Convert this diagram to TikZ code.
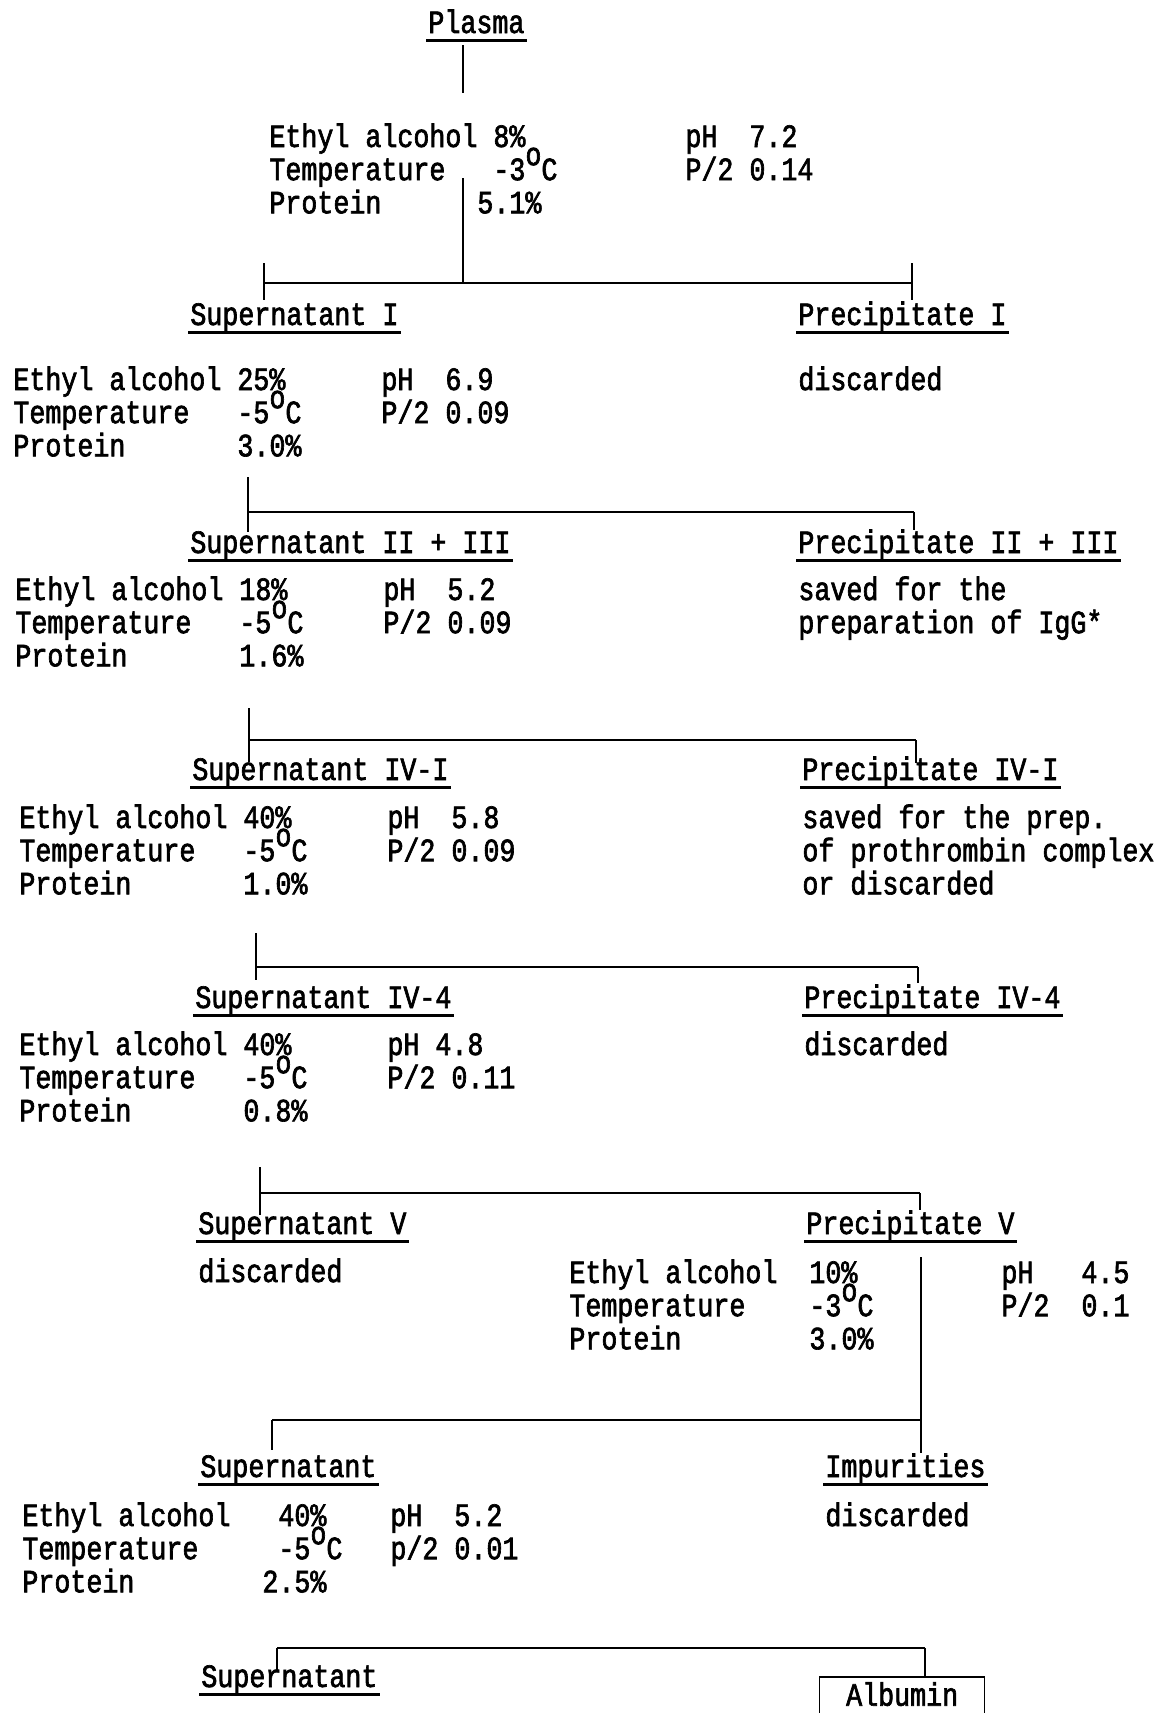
\documentclass[tikz,border=0pt]{standalone}
\usepackage{fontspec}
\setmainfont{Liberation Mono}[FakeStretch=0.82,FakeBold=2]
\newcommand{\dgr}{\raisebox{7.5pt}[0pt][0pt]{o}}
\newcommand{\tw}{\fontsize{16.26}{16}\selectfont\frenchspacing}
\newcommand{\typed}[1]{\begin{tabular}[t]{@{}l@{}}#1\end{tabular}}

\begin{document}
\begin{tikzpicture}[
	x=0.5pt, y=-0.5pt,
	% typed text, first line set on the given baseline
	txt/.style={
		anchor=base west,
		inner sep=0pt,
		font=\tw
	},
	% underlined heading
	ttl/.style={
		anchor=base west,
		inner xsep=1pt,
		inner ysep=3.5pt,
		text depth=0pt,
		font=\tw
	},
	uline/.style={line width=1.1pt},
	bar/.style={line width=1.3pt},
	stem/.style={line width=0.6pt},
	albbox/.style={
		draw,
		line width=0.7pt,
		anchor=north west,
		minimum width=82.5pt,
		inner ysep=4pt,
		text height=10pt,
		text depth=24pt,
		font=\tw
	}
	]
	\useasboundingbox (0,0) rectangle (1167,1713);
	\clip (0,0) rectangle (1167,1713);
	
	% ================= HEADINGS =================
	\node[ttl] (plasma) at (426,33) {Plasma};
	
	\node[ttl] (sup1) at (188,325) {Supernatant I};
	\node[ttl] (pre1) at (796,325) {Precipitate I};
	
	\node[ttl] (sup2) at (188,553) {Supernatant II + III};
	\node[ttl] (pre2) at (796,553) {Precipitate II + III};
	
	\node[ttl] (sup3) at (190,780) {Supernatant IV-I};
	\node[ttl] (pre3) at (800,780) {Precipitate IV-I};
	
	\node[ttl] (sup4) at (193,1008) {Supernatant IV-4};
	\node[ttl] (pre4) at (802,1008) {Precipitate IV-4};
	
	\node[ttl] (sup5) at (196,1234) {Supernatant V};
	\node[ttl] (pre5) at (804,1234) {Precipitate V};
	
	\node[ttl] (sup6) at (198,1477) {Supernatant};
	\node[ttl] (imp) at (823,1477) {Impurities};
	
	\node[ttl] (sup7) at (199,1687) {Supernatant};
	\node[albbox] (alb) at (819,1677) {Albumin};
	
	\foreach \n in {plasma,sup1,pre1,sup2,pre2,sup3,pre3,sup4,pre4,sup5,pre5,sup6,imp,sup7}
		\draw[uline] (\n.south west) -- (\n.south east);
	\draw[uline] (alb.north west) -- (alb.north east);
	
	% ================= CONDITIONS =================
	\node[txt] (cond1) at (269,147) {\typed{Ethyl alcohol 8\%~~~~~~~~~~pH~~7.2\\
		Temperature~~~-3\dgr C~~~~~~~~P/2 0.14\\
		Protein~~~~~~5.1\%}};
	
	\node[txt] (cond2) at (13,390) {\typed{Ethyl alcohol 25\%~~~~~~pH~~6.9\\
		Temperature~~~-5\dgr C~~~~~P/2 0.09\\
		Protein~~~~~~~3.0\%}};
	
	\node[txt] (cond3) at (15,600) {\typed{Ethyl alcohol 18\%~~~~~~pH~~5.2\\
		Temperature~~~-5\dgr C~~~~~P/2 0.09\\
		Protein~~~~~~~1.6\%}};
	
	\node[txt] (cond4) at (19,828) {\typed{Ethyl alcohol 40\%~~~~~~pH~~5.8\\
		Temperature~~~-5\dgr C~~~~~P/2 0.09\\
		Protein~~~~~~~1.0\%}};
	
	\node[txt] (cond5) at (19,1055) {\typed{Ethyl alcohol 40\%~~~~~~pH 4.8\\
		Temperature~~~-5\dgr C~~~~~P/2 0.11\\
		Protein~~~~~~~0.8\%}};
	
	\node[txt] (cond6) at (569,1283) {\typed{Ethyl alcohol~~10\%~~~~~~~~~pH~~~4.5\\
		Temperature~~~~-3\dgr C~~~~~~~~P/2~~0.1\\
		Protein~~~~~~~~3.0\%}};
	
	\node[txt] (cond7) at (22,1526) {\typed{Ethyl alcohol~~~40\%~~~~pH~~5.2\\
		Temperature~~~~~-5\dgr C~~~p/2 0.01\\
		Protein~~~~~~~~2.5\%}};
	
	% notes on the fractions
	\node[txt] (note1) at (798,390) {discarded};
	\node[txt] (note2) at (798,600) {\typed{saved for the\\preparation of IgG*}};
	\node[txt] (note3) at (802,828) {\typed{saved for the prep.\\of prothrombin complex\\or discarded}};
	\node[txt] (note4) at (804,1055) {discarded};
	\node[txt] (note5) at (198,1282) {discarded};
	\node[txt] (note6) at (825,1526) {discarded};
	
	% ================= JOINTS =================
	\coordinate (top0) at (463,45);
	\coordinate (top1) at (463,93);
	\coordinate (top2) at (463,178);
	\coordinate (j1) at (463,283);
	\coordinate (j1l) at (264,283);
	\coordinate (j1r) at (912,283);
	\coordinate (j2l) at (248,512);
	\coordinate (j2r) at (914,512);
	\coordinate (j3l) at (249,740);
	\coordinate (j3r) at (916,740);
	\coordinate (j4l) at (256,967);
	\coordinate (j4r) at (918,967);
	\coordinate (j5l) at (260,1193);
	\coordinate (j5r) at (920,1193);
	\coordinate (j6l) at (272,1420);
	\coordinate (j6r) at (921,1420);
	\coordinate (j7l) at (277,1648);
	\coordinate (j7r) at (925,1648);
	
	% ================= LINES =================
	\draw[stem] (top0) -- (top1);
	\draw[stem] (top2) -- (j1);
	
	\draw[bar] (j1l) -- (j1r);
	\draw[stem] (j1l) ++(0,-20) -- ++(0,37);
	\draw[stem] (j1r) ++(0,-20) -- ++(0,37);
	
	\draw[bar] (j2l) -- (j2r);
	\draw[stem] (j2l) ++(0,-35) -- ++(0,55);
	\draw[stem] (j2r) -- ++(0,18);
	
	\draw[bar] (j3l) -- (j3r);
	\draw[stem] (j3l) ++(0,-32) -- ++(0,54);
	\draw[stem] (j3r) -- ++(0,23);
	
	\draw[bar] (j4l) -- (j4r);
	\draw[stem] (j4l) ++(0,-34) -- ++(0,47);
	\draw[stem] (j4r) -- ++(0,16);
	
	\draw[bar] (j5l) -- (j5r);
	\draw[stem] (j5l) ++(0,-26) -- ++(0,48);
	\draw[stem] (j5r) -- ++(0,17);
	
	\draw[bar] (j6l) -- (j6r);
	\draw[stem] (j6r) ++(0,-163) -- ++(0,196);
	\draw[stem] (j6l) -- ++(0,30);
	
	\draw[bar] (j7l) -- (j7r);
	\draw[stem] (j7l) -- ++(0,22);
	\draw[stem] (j7r) -- (j7r |- alb.north);
	
\end{tikzpicture}
\end{document}
